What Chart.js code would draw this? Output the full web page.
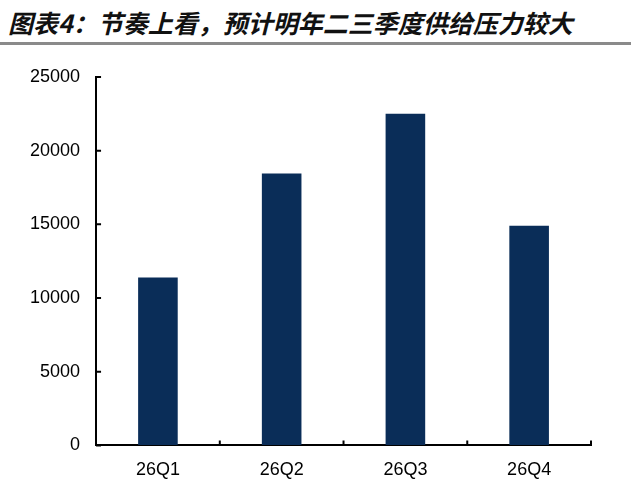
<!DOCTYPE html>
<html>
<head>
<meta charset="utf-8">
<script src="https://cdn.jsdelivr.net/npm/chart.js@4.4.1/dist/chart.umd.min.js"></script>
<style>
    html, body { margin: 0; padding: 0; background: #fff; }
    #wrap { position: relative; width: 640px; height: 495px; overflow: hidden; }
    #title {
        position: absolute; left: 8px; top: 4px;
        font-family: "Noto Sans CJK SC", sans-serif;
        font-weight: bold; font-style: italic;
        font-size: 25px; color: #111; white-space: nowrap;
    }
    #rule { position: absolute; left: 0; top: 42px; width: 631px; height: 3px; background: #8a8a8a; }
    #chartBox { position: absolute; left: 0; top: 0; width: 640px; height: 495px; }
</style>
</head>
<body>
<div id="wrap">
    <div id="title">图表4：节奏上看，预计明年二三季度供给压力较大</div>
    <div id="rule"></div>
    <div id="chartBox"><canvas id="chart"></canvas></div>
</div>
<script>
// Chart data
const quarters = ['26Q1', '26Q2', '26Q3', '26Q4'];
const supply = [11400, 18450, 22500, 14900];
const yTicks = [0, 5000, 10000, 15000, 20000, 25000];

const barColor = '#0a2d58';

// Draw short tick marks pointing into the plot area
const innerTicks = {
    id: 'innerTicks',
    afterDraw(chart) {
        const ctx = chart.ctx;
        const x = chart.scales.x;
        const y = chart.scales.y;
        ctx.save();
        ctx.strokeStyle = '#000';
        ctx.lineWidth = 2;
        ctx.beginPath();
        y.ticks.forEach(t => {
            const py = y.getPixelForValue(t.value);
            ctx.moveTo(y.right, py);
            ctx.lineTo(y.right + 5, py);
        });
        for (let i = 0; i < quarters.length; i++) {
            const px = x.getPixelForValue(i + 0.5);
            ctx.moveTo(px, x.top);
            ctx.lineTo(px, x.top - 5);
        }
        ctx.stroke();
        ctx.restore();
    }
};

const ctx = document.getElementById('chart').getContext('2d');
const chart = new Chart(ctx, {
    type: 'bar',
    data: {
        labels: quarters,
        datasets: [{
            data: supply,
            backgroundColor: barColor,
            barPercentage: 0.32,
            categoryPercentage: 1
        }]
    },
    options: {
        responsive: true,
        maintainAspectRatio: false,
        animation: false,
        layout: { padding: { left: 14, right: 49, top: 77, bottom: 0 } },
        plugins: {
            legend: { display: false },
            tooltip: { enabled: false }
        },
        scales: {
            x: {
                offset: true,
                grid: { display: true, drawOnChartArea: false, drawTicks: false, offset: true },
                border: { color: '#000', width: 2 },
                ticks: {
                    color: '#000',
                    padding: 14,
                    font: { family: '"Liberation Sans", Arial, sans-serif', size: 18 }
                }
            },
            y: {
                min: 0,
                max: 25000,
                afterBuildTicks: (axis) => {
                    axis.ticks = yTicks.map(v => ({ value: v }));
                },
                grid: { drawOnChartArea: false, drawTicks: false },
                border: { color: '#000', width: 2 },
                ticks: {
                    color: '#000',
                    padding: 16,
                    callback: (value) => String(value),
                    font: { family: '"Liberation Sans", Arial, sans-serif', size: 18 }
                }
            }
        }
    },
    plugins: [innerTicks]
});
</script>
</body>
</html>
